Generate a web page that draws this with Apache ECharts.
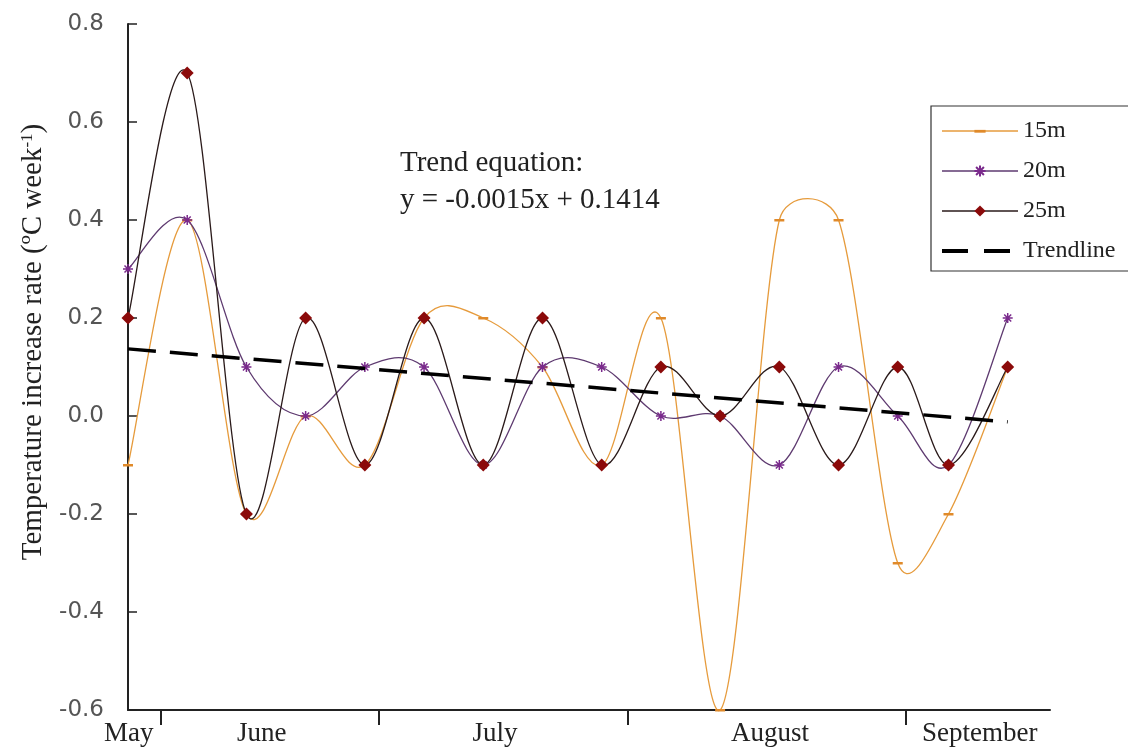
<!DOCTYPE html>
<html>
<head>
<meta charset="utf-8">
<script src="https://cdn.jsdelivr.net/npm/echarts@6/dist/echarts.min.js"></script>
<style>html,body{margin:0;padding:0;background:#fff;}#c{width:1128px;height:749px;}</style>
</head>
<body>
<div id="c"></div>
<script>
// Sampling days (weekly, one 6-day step near the end)
const days = [0, 7, 14, 21, 28, 35, 42, 49, 56, 63, 70, 77, 84, 91, 97, 104];
const s15 = [-0.1, 0.4, -0.2, 0.0, -0.1, 0.2, 0.2, 0.1, -0.1, 0.2, -0.6, 0.4, 0.4, -0.3, -0.2, 0.1];
const s20 = [0.3, 0.4, 0.1, 0.0, 0.1, 0.1, -0.1, 0.1, 0.1, 0.0, 0.0, -0.1, 0.1, 0.0, -0.1, 0.2];
const s25 = [0.2, 0.7, -0.2, 0.2, -0.1, 0.2, -0.1, 0.2, -0.1, 0.1, 0.0, 0.1, -0.1, 0.1, -0.1, 0.1];
const trendDays = [0, 104];
const trendValues = [0.137, -0.012];
const monthNames = ['May', 'June', 'July', 'August', 'September'];
const monthLabelPos = [0.1, 15.8, 43.4, 75.9, 100.7];
const monthTickPos = [3.9, 29.6, 59.1, 91.9];
const yTicks = [-0.6, -0.4, -0.2, 0.0, 0.2, 0.4, 0.6, 0.8];

const pair = (xs, ys) => xs.map((x, i) => [x, ys[i]]);
const serif = 'Liberation Serif';
const asterisk = 'path://M5,0L5,10M0,5L10,5M1.5,1.5L8.5,8.5M8.5,1.5L1.5,8.5';
const dash = 'path://M0,0L0,0M0,4L10,4L10,6.5L0,6.5ZM10,10L10,10';

const C15 = '#E69B3C', C20 = '#5E3A70', C25 = '#2A1A1A';

// Excel-style smoothed curve through the points (drawn with the chart's own coordinate mapping)
function smoothCurve(vals, color) {
  return {
    type: 'custom', silent: true, z: 1,
    data: pair(days, vals),
    encode: { x: 0, y: 1 },
    renderItem: (params, api) => {
      if (params.dataIndex !== 0) return null;
      const p = days.map((d, j) => api.coord([d, vals[j]]));
      const n = p.length;
      const dist = (a, b) => Math.hypot(b[0] - a[0], b[1] - a[1]);
      let d = 'M' + p[0][0] + ',' + p[0][1];
      for (let i = 0; i < n - 1; i++) {
        const P0 = p[Math.max(0, i - 1)], P1 = p[i], P2 = p[i + 1], P3 = p[Math.min(n - 1, i + 2)];
        const seg = dist(P1, P2);
        const v1 = [P2[0] - P0[0], P2[1] - P0[1]], L1 = Math.hypot(v1[0], v1[1]);
        const v2 = [P3[0] - P1[0], P3[1] - P1[1]], L2 = Math.hypot(v2[0], v2[1]);
        let f1 = 1 / 6, f2 = 1 / 6;
        if (L1 > 0 && f1 * L1 > seg / 2) f1 = seg / (2 * L1);
        if (L2 > 0 && f2 * L2 > seg / 2) f2 = seg / (2 * L2);
        const c1 = [P1[0] + v1[0] * f1, P1[1] + v1[1] * f1];
        const c2 = [P2[0] - v2[0] * f2, P2[1] - v2[1] * f2];
        d += 'C' + c1[0] + ',' + c1[1] + ' ' + c2[0] + ',' + c2[1] + ' ' + P2[0] + ',' + P2[1];
      }
      return { type: 'path', shape: { pathData: d }, style: { fill: 'none', stroke: color, lineWidth: 1.3 } };
    }
  };
}

const chart = echarts.init(document.getElementById('c'));
chart.setOption({
  animation: false,
  backgroundColor: '#fff',
  title: {
    text: 'Trend equation:\ny = -0.0015x + 0.1414',
    left: 400, top: 145, padding: 0,
    textStyle: { fontFamily: serif, fontSize: 29, fontWeight: 'normal', color: '#222', lineHeight: 37 }
  },
  legend: {
    orient: 'vertical', left: 931, top: 106,
    borderColor: '#333', borderWidth: 1.2,
    padding: [13, 14, 8, 9],
    itemWidth: 76, itemHeight: 14, itemGap: 16,
    textStyle: { fontFamily: serif, fontSize: 24, color: '#222', lineHeight: 20 },
    data: [
      { name: '15m', lineStyle: { color: C15, width: 1.5, opacity: 1, type: 'solid' } },
      { name: '20m', lineStyle: { color: C20, width: 1.5, opacity: 1, type: 'solid' } },
      { name: '25m', lineStyle: { color: C25, width: 1.5, opacity: 1, type: 'solid' } },
      { name: 'Trendline', itemStyle: { opacity: 0 }, lineStyle: { color: '#000', width: 4, opacity: 1, type: [26, 16] } }
    ]
  },
  grid: { left: 128, right: 78, top: 24, bottom: 39, containLabel: false, outerBoundsMode: 'none' },
  xAxis: {
    type: 'value', min: 0, max: 109,
    splitLine: { show: false },
    axisLine: { show: true, onZero: false, lineStyle: { color: '#222', width: 2 } },
    axisTick: { show: true, customValues: monthTickPos, length: 15, inside: false, lineStyle: { color: '#222', width: 2 } },
    axisLabel: {
      show: true, customValues: monthLabelPos, margin: 10, hideOverlap: false,
      fontFamily: serif, fontSize: 27, color: '#222',
      formatter: (v) => {
        let best = 0;
        monthLabelPos.forEach((p, i) => { if (Math.abs(p - v) < Math.abs(monthLabelPos[best] - v)) best = i; });
        return monthNames[best];
      }
    }
  },
  yAxis: {
    type: 'value', min: yTicks[0], max: yTicks[yTicks.length - 1], interval: 0.2,
    splitLine: { show: false },
    axisLine: { show: true, lineStyle: { color: '#222', width: 2 } },
    axisTick: { show: true, inside: true, length: 9, lineStyle: { color: '#222', width: 1.5 } },
    axisLabel: {
      margin: 24, fontFamily: 'DejaVu Sans', fontSize: 23, color: '#555',
      formatter: (v) => v.toFixed(1)
    },
    name: 'Temperature increase rate (ºC week{sup|-1})',
    nameLocation: 'middle', nameGap: 68, nameRotate: 90,
    nameTextStyle: {
      fontFamily: serif, fontSize: 29, color: '#222', padding: [0, 0, 0, 50],
      rich: { sup: { fontFamily: serif, fontSize: 17, color: '#222', verticalAlign: 'top' } }
    }
  },
  series: [
    smoothCurve(s15, C15),
    smoothCurve(s20, C20),
    smoothCurve(s25, C25),
    {
      name: '15m', type: 'line', data: pair(days, s15),
      symbol: dash, symbolSize: 10,
      lineStyle: { opacity: 0 },
      itemStyle: { color: '#E08A2A' }, z: 3
    },
    {
      name: '20m', type: 'line', data: pair(days, s20),
      symbol: asterisk, symbolSize: 10,
      lineStyle: { opacity: 0 },
      itemStyle: { color: '#7A2A8C', borderColor: '#7A2A8C', borderWidth: 1.5 }, z: 4
    },
    {
      name: '25m', type: 'line', data: pair(days, s25),
      symbol: 'diamond', symbolSize: 13,
      lineStyle: { opacity: 0 },
      itemStyle: { color: '#8B0A0A' }, z: 5
    },
    {
      name: 'Trendline', type: 'line', data: pair(trendDays, trendValues),
      symbol: 'none',
      itemStyle: { color: '#000' },
      lineStyle: { color: '#000', width: 3.5, type: [28, 14] }, z: 6
    }
  ]
});
</script>
</body>
</html>
